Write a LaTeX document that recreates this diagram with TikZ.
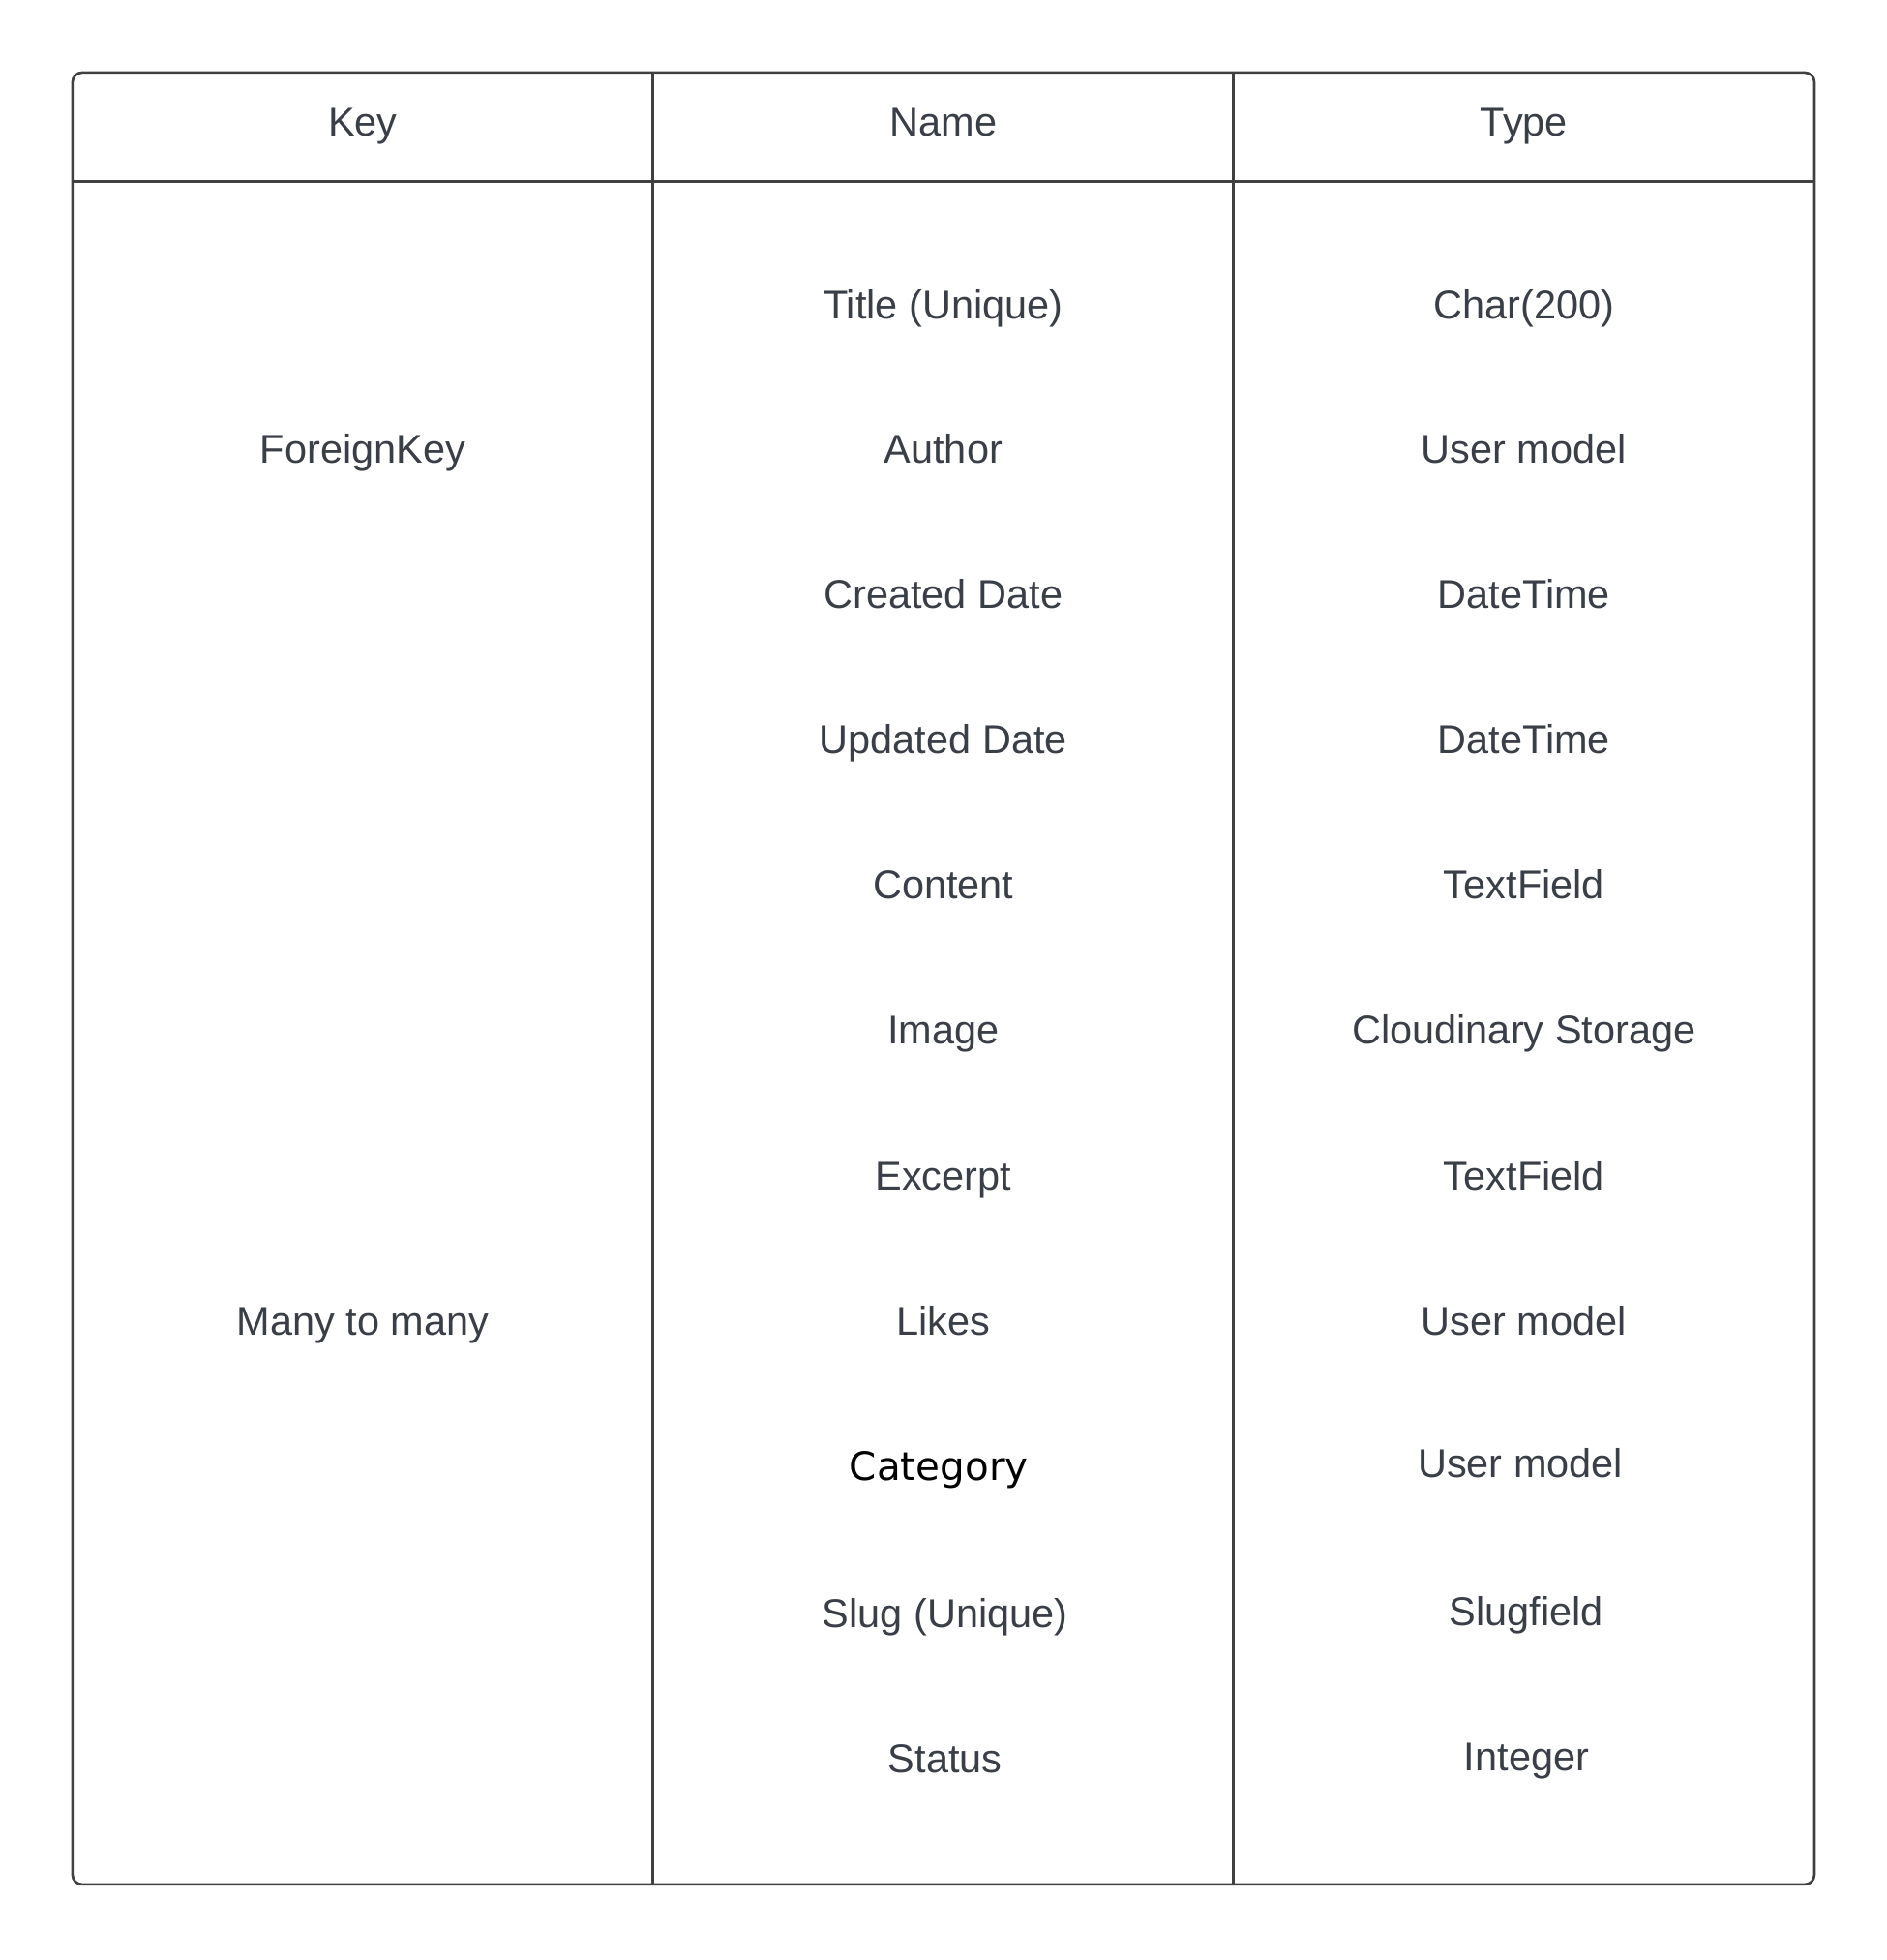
\documentclass[tikz,border=0pt]{standalone}
\usepackage{fontspec}
\setmainfont{Liberation Sans}
\newfontfamily\catfont{DejaVu Sans}
\definecolor{textgray}{HTML}{3A3E47}
\definecolor{linegray}{HTML}{404040}

\begin{document}
\begin{tikzpicture}[font=\fontsize{11.8}{14}\selectfont,
    cell/.style={text=textgray, text height=0.72em, text depth=0pt, inner sep=0pt},
    rule/.style={linegray, line width=0.75pt}]
        \useasboundingbox (0,0) rectangle (19.5,-20.25);

        % Frame and rules
        \draw [rule, rounded corners=1mm] (0.749,-0.749) rectangle (18.750,-19.469);
        \draw [rule] (0.749,-1.872) -- (18.750,-1.872);
        \draw [rule] (6.748,-0.749) -- (6.748,-19.469);
        \draw [rule] (12.748,-0.749) -- (12.748,-19.469);

        % Header
        \node [cell] (keyhead) at (3.749,-1.278) {Key};
        \node [cell] (namehead) at (9.748,-1.278) {Name};
        \node [cell] (typehead) at (15.749,-1.278) {Type};

        % Key column
        \node [cell] (fkey) at (3.749,-4.663) {ForeignKey};
        \node [cell] (m2m) at (3.749,-13.668) {Many to many};

        % Name column
        \node [cell] (title) at (9.748,-3.165) {Title (Unique)};
        \node [cell] (author) at (9.748,-4.663) {Author};
        \node [cell] (created) at (9.748,-6.162) {Created Date};
        \node [cell] (updated) at (9.748,-7.661) {Updated Date};
        \node [cell] (content) at (9.748,-9.159) {Content};
        \node [cell] (image) at (9.748,-10.658) {Image};
        \node [cell] (excerpt) at (9.748,-12.17) {Excerpt};
        \node [cell] (likes) at (9.748,-13.668) {Likes};
        \node [cell, text=black, font=\catfont\fontsize{11.5}{14}\selectfont] (category) at (9.703,-15.165) {Category};
        \node [cell] (slug) at (9.767,-16.692) {Slug (Unique)};
        \node [cell] (status) at (9.767,-18.19) {Status};

        % Type column
        \node [cell] (titletype) at (15.749,-3.165) {Char(200)};
        \node [cell] (authortype) at (15.749,-4.663) {User model};
        \node [cell] (createdtype) at (15.749,-6.162) {DateTime};
        \node [cell] (updatedtype) at (15.749,-7.661) {DateTime};
        \node [cell] (contenttype) at (15.749,-9.159) {TextField};
        \node [cell] (imagetype) at (15.749,-10.658) {Cloudinary Storage};
        \node [cell] (excerpttype) at (15.749,-12.17) {TextField};
        \node [cell] (likestype) at (15.749,-13.668) {User model};
        \node [cell] (categorytype) at (15.711,-15.141) {User model};
        \node [cell] (slugtype) at (15.775,-16.666) {Slugfield};
        \node [cell] (statustype) at (15.775,-18.165) {Integer};
    \end{tikzpicture}
\end{document}
